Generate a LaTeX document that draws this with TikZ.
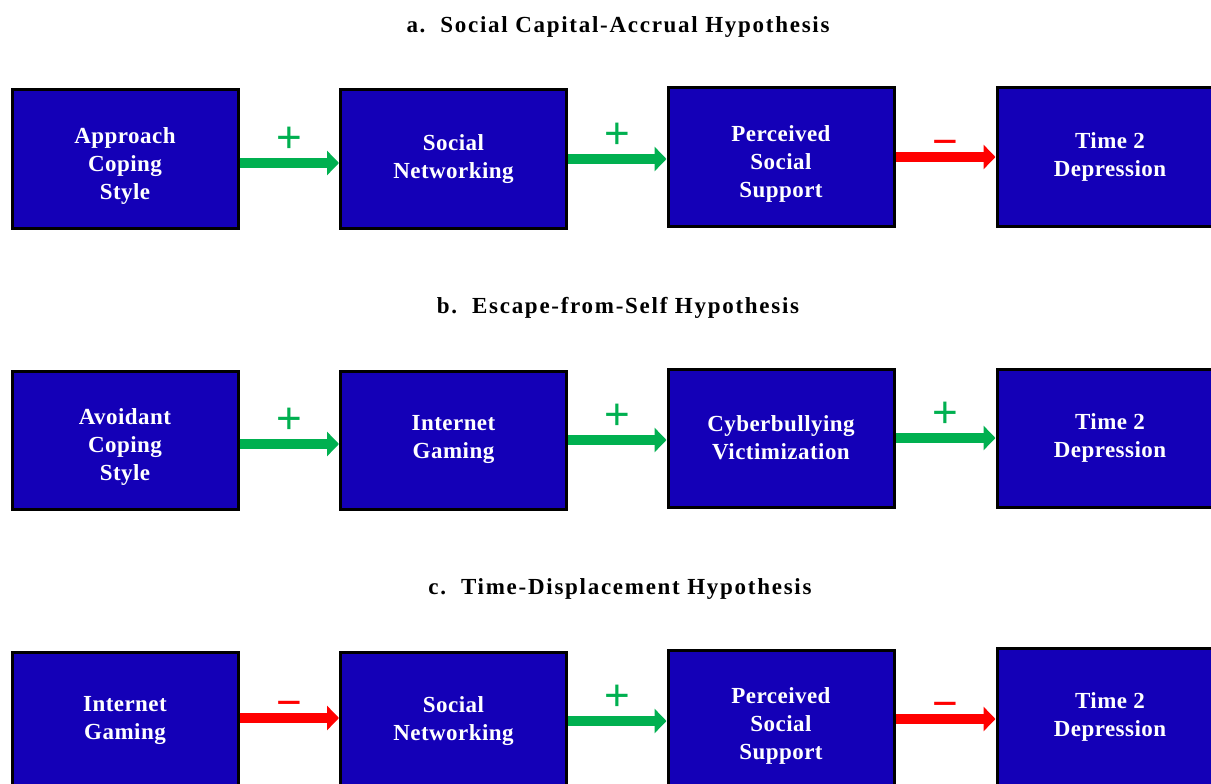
\documentclass[tikz,border=0pt]{standalone}
\usepackage{fontspec}
\setmainfont{Liberation Serif}
\newfontfamily\boxfont[LetterSpace=2]{Liberation Serif}
\newfontfamily\titlefont[LetterSpace=7.5]{Liberation Serif}
\newfontfamily\signfont{Liberation Sans}
\usetikzlibrary{arrows.meta}

\definecolor{boxblue}{RGB}{20,0,183}
\definecolor{posgreen}{RGB}{0,176,80}
\definecolor{negred}{RGB}{255,0,0}

\tikzset{
  hbox/.style={draw=black, line width=3pt, fill=boxblue, text=white,
    font=\boxfont\fontsize{23}{28}\selectfont\bfseries, align=center,
    minimum width=226pt, minimum height=138pt, inner sep=0pt},
  lowtext/.style={text height=80pt, text depth=0pt},
  htitle/.style={font=\titlefont\fontsize{23}{26}\selectfont\bfseries},
  posarrow/.style={draw=posgreen, line width=10pt, -{Triangle[length=12pt,width=24pt]}},
  negarrow/.style={posarrow, draw=negred},
  possign/.style={text=posgreen, font=\signfont\fontsize{44}{44}\selectfont, yshift=23pt},
  negsign/.style={text=negred, font=\signfont\fontsize{44}{44}\selectfont, yshift=9pt}
}

\begin{document}
\begin{tikzpicture}[x=1pt,y=-1pt]
    \clip (0,0) rectangle (1211,784);
    \fill[white] (0,0) rectangle (1211,784);

    % a. social capital
    \node[htitle] (ta) at (618,27) {a.\ \ Social Capital-Accrual Hypothesis};
    \node[hbox,lowtext] (a1) at (125,159) {Approach\\Coping\\Style};
    \node[hbox] (a2) at (453.5,159) {Social\\Networking};
    \node[hbox,lowtext] (a3) at (781,157) {Perceived\\Social\\Support};
    \node[hbox] (a4) at (1110,157) {Time 2\\Depression};
    \draw[posarrow] ([yshift=-4pt]a1.east) -- node[possign] {+} ([yshift=-4pt]a1.east -| a2.west);
    \draw[posarrow] (a2.east) -- node[possign] {+} (a2.east -| a3.west);
    \draw[negarrow] (a3.east) -- node[negsign] {−} (a4.west);

    % b. escape from self
    \node[htitle] (tb) at (618,308) {b.\ \ Escape-from-Self Hypothesis};
    \node[hbox,lowtext] (b1) at (125,440) {Avoidant\\Coping\\Style};
    \node[hbox] (b2) at (453.5,440) {Internet\\Gaming};
    \node[hbox] (b3) at (781,438) {Cyberbullying\\Victimization};
    \node[hbox] (b4) at (1110,438) {Time 2\\Depression};
    \draw[posarrow] ([yshift=-4pt]b1.east) -- node[possign] {+} ([yshift=-4pt]b1.east -| b2.west);
    \draw[posarrow] (b2.east) -- node[possign] {+} (b2.east -| b3.west);
    \draw[posarrow] (b3.east) -- node[possign] {+} (b4.west);

    % c. time displacement
    \node[htitle] (tc) at (620,589) {c.\ \ Time-Displacement Hypothesis};
    \node[hbox] (c1) at (125,721) {Internet\\Gaming};
    \node[hbox] (c2) at (453.5,721) {Social\\Networking};
    \node[hbox,lowtext] (c3) at (781,719) {Perceived\\Social\\Support};
    \node[hbox] (c4) at (1110,717) {Time 2\\Depression};
    \draw[negarrow] ([yshift=3pt]c1.east) -- node[negsign] {−} ([yshift=3pt]c1.east -| c2.west);
    \draw[posarrow] (c2.east) -- node[possign] {+} (c2.east -| c3.west);
    \draw[negarrow] (c3.east) -- node[negsign] {−} (c3.east -| c4.west);
\end{tikzpicture}
\end{document}
